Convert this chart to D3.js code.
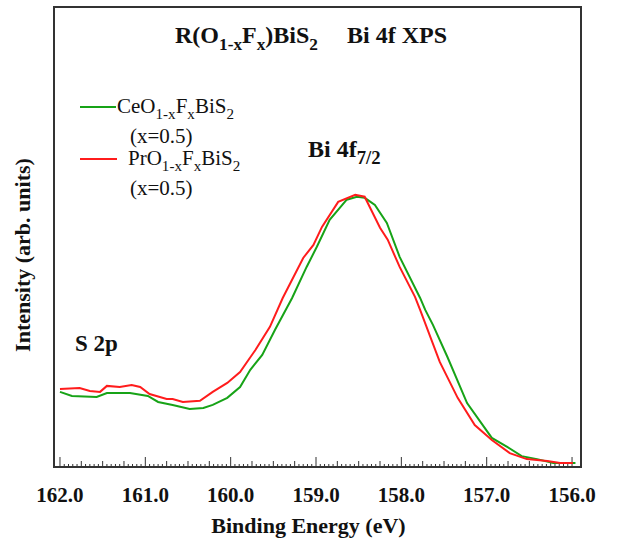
<!DOCTYPE html>
<html>
<head>
<meta charset="utf-8">
<script src="https://cdn.jsdelivr.net/npm/d3@7"></script>
<style>
  body { margin: 0; background: #fff; }
  text { font-family: "Liberation Serif", "Times New Roman", serif; fill: #111; }
</style>
</head>
<body>
<div id="chart"></div>
<script>
// binding energy (eV) and normalised intensity
const ceEnergy = [162.00, 161.86, 161.57, 161.45, 161.18, 160.97, 160.85, 160.68, 160.48, 160.32,
  160.21, 160.04, 159.89, 159.77, 159.63, 159.48, 159.28, 159.11, 158.99, 158.84,
  158.64, 158.52, 158.43, 158.31, 158.17, 158.02, 157.78, 157.72, 157.63, 157.46,
  157.23, 156.94, 156.76, 156.59, 156.41, 156.22, 155.96]
const ceIntensity = [0.276, 0.261, 0.257, 0.272, 0.272, 0.261, 0.239, 0.228, 0.213, 0.217,
  0.228, 0.254, 0.294, 0.357, 0.412, 0.504, 0.621, 0.735, 0.809, 0.908,
  0.982, 0.993, 0.989, 0.963, 0.897, 0.772, 0.621, 0.577, 0.522, 0.404,
  0.235, 0.107, 0.074, 0.040, 0.029, 0.015, 0.015]

const prEnergy = [162.00, 161.77, 161.65, 161.53, 161.45, 161.30, 161.16, 161.06, 160.95, 160.75,
  160.68, 160.56, 160.36, 160.21, 160.04, 159.89, 159.71, 159.54, 159.39, 159.15,
  159.03, 158.93, 158.74, 158.54, 158.43, 158.25, 158.16, 158.02, 157.84, 157.78,
  157.55, 157.34, 157.14, 156.94, 156.73, 156.53, 156.29, 156.14, 155.99]
const prIntensity = [0.287, 0.290, 0.279, 0.276, 0.298, 0.294, 0.301, 0.294, 0.268, 0.250,
  0.250, 0.239, 0.243, 0.276, 0.309, 0.349, 0.430, 0.515, 0.621, 0.768,
  0.816, 0.882, 0.974, 1.000, 0.993, 0.879, 0.835, 0.735, 0.625, 0.577,
  0.386, 0.254, 0.154, 0.099, 0.051, 0.029, 0.022, 0.015, 0.015]

const xTicks = [162, 161, 160, 159, 158, 157, 156]

const width = 618, height = 544
const plotLeft = 54, plotRight = 581, plotTop = 7, plotBottom = 467

const x = d3.scaleLinear().domain([162.07, 155.895]).range([plotLeft, plotRight])
const y = d3.scaleLinear().domain([0, 1.69]).range([plotBottom, plotTop])

const svg = d3.select("#chart").append("svg")
  .attr("width", width)
  .attr("height", height)

// minor ticks every 0.05 eV, medium every 0.25, major every 1
const tickVals = d3.range(0, 121).map(i => 162 - i * 0.05)
svg.append("g")
  .selectAll("line")
  .data(tickVals)
  .enter().append("line")
    .attr("x1", d => x(d))
    .attr("x2", d => x(d))
    .attr("y1", plotBottom)
    .attr("y2", (d, i) => plotBottom - (i % 20 == 0 ? 10 : (i % 5 == 0 ? 6 : 3)))
    .attr("stroke", "#333")
    .attr("stroke-width", 1)

const line = d3.line()
  .x(d => x(d[0]))
  .y(d => y(d[1]))

svg.append("path")
  .datum(d3.zip(ceEnergy, ceIntensity))
  .attr("d", line)
  .attr("fill", "none")
  .attr("stroke", "#17a317")
  .attr("stroke-width", 2)

svg.append("path")
  .datum(d3.zip(prEnergy, prIntensity))
  .attr("d", line)
  .attr("fill", "none")
  .attr("stroke", "#ff1c1c")
  .attr("stroke-width", 2)

// frame
svg.append("rect")
  .attr("x", plotLeft)
  .attr("y", plotTop)
  .attr("width", plotRight - plotLeft)
  .attr("height", plotBottom - plotTop)
  .attr("fill", "none")
  .attr("stroke", "#333")
  .attr("stroke-width", 2)

svg.append("g")
  .selectAll("text")
  .data(xTicks)
  .enter().append("text")
    .attr("x", d => x(d))
    .attr("y", 502)
    .attr("text-anchor", "middle")
    .attr("font-size", 21)
    .attr("font-weight", "bold")
    .text(d => d.toFixed(1))

svg.append("text")
  .attr("x", (plotLeft + plotRight) / 2 - 9)
  .attr("y", 533)
  .attr("text-anchor", "middle")
  .attr("font-size", 22)
  .attr("font-weight", "bold")
  .text("Binding Energy (eV)")

svg.append("text")
  .attr("transform", "translate(30,255) rotate(-90)")
  .attr("text-anchor", "middle")
  .attr("font-size", 22)
  .attr("font-weight", "bold")
  .text("Intensity (arb. units)")

// text with subscripts: parts = [[text, isSub], ...]
function richText(sel, px, py, size, bold, parts, subScale) {
  const k = subScale || 0.68
  const t = sel.append("text")
    .attr("x", px)
    .attr("y", py)
    .attr("font-size", size)
    .attr("font-weight", bold ? "bold" : "normal")
  let sub = false
  parts.forEach(p => {
    const s = t.append("tspan").text(p[0])
    if (p[1] && !sub) { s.attr("dy", size * 0.3).attr("font-size", size * k) }
    else if (p[1]) { s.attr("font-size", size * k) }
    else if (sub) { s.attr("dy", -size * 0.3) }
    sub = p[1]
  })
  return t
}

richText(svg, 175, 43, 24, true, [["R(O", 0], ["1-x", 1], ["F", 0], ["x", 1], [")BiS", 0], ["2", 1]], 0.72)
richText(svg, 347, 43, 24, true, [["Bi 4f XPS", 0]])
richText(svg, 308, 157, 24, true, [["Bi 4f", 0], ["7/2", 1]], 0.78)
richText(svg, 75, 351, 23, true, [["S 2p", 0]])

// legend
svg.append("line").attr("x1", 80).attr("x2", 116).attr("y1", 107).attr("y2", 107)
  .attr("stroke", "#17a317").attr("stroke-width", 2)
svg.append("line").attr("x1", 80).attr("x2", 117).attr("y1", 159).attr("y2", 159)
  .attr("stroke", "#ff1c1c").attr("stroke-width", 2)
richText(svg, 117, 113, 21, false, [["CeO", 0], ["1-x", 1], ["F", 0], ["x", 1], ["BiS", 0], ["2", 1]], 0.72)
richText(svg, 130, 143, 21, false, [["(x=0.5)", 0]])
richText(svg, 128, 165, 21, false, [["PrO", 0], ["1-x", 1], ["F", 0], ["x", 1], ["BiS", 0], ["2", 1]], 0.72)
richText(svg, 130, 195, 21, false, [["(x=0.5)", 0]])
</script>
</body>
</html>
